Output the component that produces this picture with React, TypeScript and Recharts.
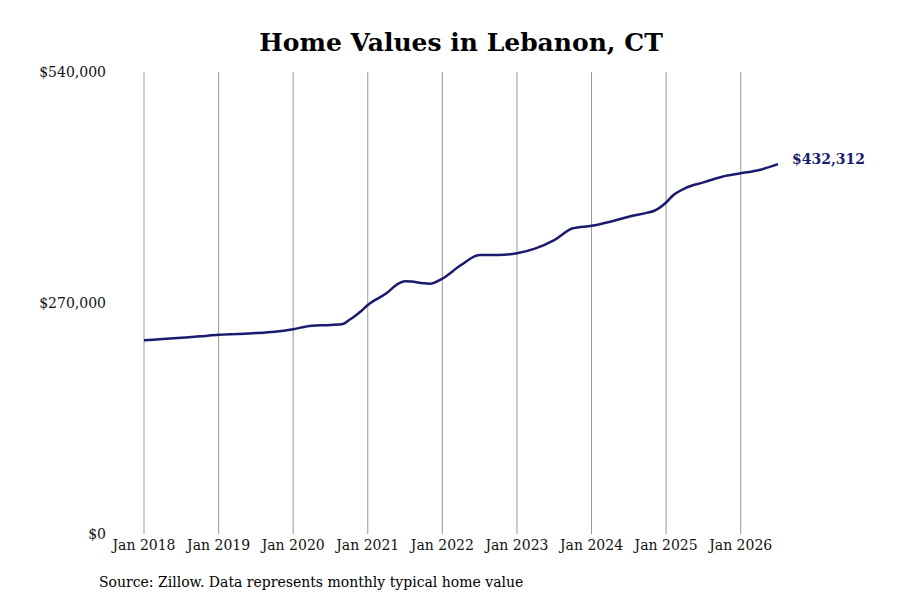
import { LineChart, Line, XAxis, YAxis, ReferenceLine } from "recharts";

// months since Jan 2018
const months = [
  0, 3, 6, 9, 12, 15, 18, 21, 24, 27, 30, 32, 33, 34, 35, 36, 39, 41, 42, 43,
  45, 46, 48, 51, 54, 57, 60, 63, 66, 69, 72, 75, 78, 81, 82, 84, 85, 87, 90,
  93, 96, 99, 102,
];
const values = [
  226400, 227900, 229400, 231000, 232900, 233800, 234900, 236500, 239400,
  243500, 244300, 245400, 250100, 255200, 261000, 267700, 281300, 293000,
  295300, 295000, 293000, 292600, 298500, 314400, 326100, 326100, 328100,
  333900, 343600, 357300, 360200, 365000, 370900, 375600, 377500, 387500,
  395000, 404000, 411000, 417600, 421600, 425500, 432312,
];
const yearTicks = [0, 12, 24, 36, 48, 60, 72, 84, 96];
const yearLabels = ["2018", "2019", "2020", "2021", "2022", "2023", "2024", "2025", "2026"];
const valueTicks = [0, 270000, 540000];

const data = months.map((m, i) => ({ m, v: values[i] }));
const FONT = "DejaVu Serif, serif";
const NAVY = "#1a1a6e";

const money = (v: number) => "$" + v.toLocaleString("en-US");

function EndLabel(props: any) {
  const { x, y, index } = props;
  if (index !== data.length - 1) return null;
  return (
    <text x={x + 14} y={y - 5} dy="0.35em" fill={NAVY} fontSize={14} fontWeight="bold" fontFamily={FONT}>
      {money(values[values.length - 1])}
    </text>
  );
}

export default function App() {
  return (
    <div style={{ position: "absolute", left: 0, top: 0, width: 900, height: 600, background: "#fff", fontFamily: FONT }}>
      <div
        style={{
          position: "absolute",
          left: 0,
          width: 922,
          top: 28,
          textAlign: "center",
          fontSize: 25,
          fontWeight: "bold",
          color: "#000",
        }}
      >
        Home Values in Lebanon, CT
      </div>
      <LineChart width={900} height={600} data={data} margin={{ top: 72, right: 122, bottom: 0, left: 44 }}>
        <XAxis
          dataKey="m"
          type="number"
          domain={[0, 102]}
          ticks={yearTicks}
          tickFormatter={(m: number) => "Jan " + yearLabels[m / 12]}
          axisLine={false}
          tickLine={false}
          tickMargin={0}
          height={66}
          tick={{ fill: "#111", fontSize: 14, fontFamily: FONT }}
        />
        <YAxis
          domain={[0, 540000]}
          ticks={valueTicks}
          tickFormatter={money}
          axisLine={false}
          tickLine={false}
          width={100}
          tickMargin={32}
          tick={{ fill: "#111", fontSize: 14, fontFamily: FONT }}
        />
        {yearTicks.map((t) => (
          <ReferenceLine key={t} x={t} stroke="#999" strokeWidth={1} />
        ))}
        <Line
          type="monotone"
          dataKey="v"
          stroke={NAVY}
          strokeWidth={2.5}
          dot={false}
          isAnimationActive={false}
          label={<EndLabel />}
        />
      </LineChart>
      <div style={{ position: "absolute", left: 99, top: 574, fontSize: 14, color: "#000" }}>
        Source: Zillow. Data represents monthly typical home value
      </div>
    </div>
  );
}
